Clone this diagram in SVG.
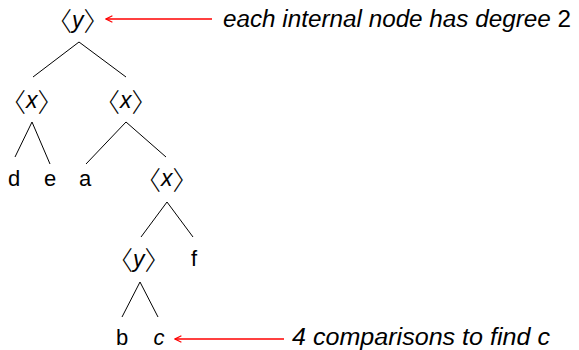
<svg xmlns="http://www.w3.org/2000/svg" width="579" height="350" viewBox="0 0 579 350">
  <style>
    .t { font-family: "Liberation Sans", "DejaVu Sans", sans-serif; font-size: 22px; fill: #000; text-anchor: middle; }
    .i { font-style: italic; }
    .node { font-family: "Liberation Sans", sans-serif; font-size: 23px; fill: #000; }
    .v { font-style: italic; }
    .br { font-family: "Noto Sans CJK SC", "DejaVu Sans", sans-serif; font-weight: 300; font-size: 26px; font-style: normal; }
    .note { font-family: "Liberation Sans", "DejaVu Sans", sans-serif; font-size: 23px; font-style: italic; fill: #000; }
    .edge { stroke: #000; stroke-width: 1; fill: none; }
    .ptr { stroke: #ff0000; stroke-width: 1.5; fill: none; marker-end: url(#ah); }
  </style>
  <defs>
    <marker id="ah" viewBox="0 0 10 10" refX="9" refY="5" markerWidth="8" markerHeight="8" markerUnits="userSpaceOnUse" orient="auto">
      <path d="M1,1 L9,5 L1,9" fill="none" stroke="#ff0000" stroke-width="1.5"/>
    </marker>
  </defs>

  <g id="connectors">
    <line class="edge" x1="79" y1="42" x2="33" y2="77"/>
    <line class="edge" x1="79" y1="42" x2="126" y2="77"/>
    <line class="edge" x1="32" y1="122" x2="15" y2="157"/>
    <line class="edge" x1="32" y1="122" x2="50" y2="164"/>
    <line class="edge" x1="126" y1="122" x2="86" y2="164"/>
    <line class="edge" x1="126" y1="122" x2="166" y2="157"/>
    <line class="edge" x1="167" y1="202" x2="141" y2="237"/>
    <line class="edge" x1="167" y1="202" x2="193" y2="237"/>
    <line class="edge" x1="140" y1="282" x2="122" y2="317"/>
    <line class="edge" x1="140" y1="282" x2="158" y2="317"/>
    <line class="ptr" x1="212" y1="19" x2="106" y2="19"/>
    <line class="ptr" x1="284" y1="339" x2="175" y2="339"/>
  </g>

  <!-- internal nodes: angle brackets around the key variable -->
  <g id="root"><text class="node" x="46" y="31"><tspan class="br">〈</tspan><tspan class="v" dy="-3">y</tspan><tspan class="br" dy="3">〉</tspan></text></g>
  <g id="x-left"><text class="node" x="0" y="112"><tspan class="br">〈</tspan><tspan class="v" dy="-4">x</tspan><tspan class="br" dy="4">〉</tspan></text></g>
  <g id="x-right"><text class="node" x="94" y="112"><tspan class="br">〈</tspan><tspan class="v" dy="-4">x</tspan><tspan class="br" dy="4">〉</tspan></text></g>
  <g id="x-inner"><text class="node" x="135" y="190"><tspan class="br">〈</tspan><tspan class="v" dy="-4">x</tspan><tspan class="br" dy="4">〉</tspan></text></g>
  <g id="y-inner"><text class="node" x="107" y="270"><tspan class="br">〈</tspan><tspan class="v" dy="-3">y</tspan><tspan class="br" dy="3">〉</tspan></text></g>

  <g id="leaf-d"><text class="t" x="14" y="186">d</text></g>
  <g id="leaf-e"><text class="t" x="50" y="186">e</text></g>
  <g id="leaf-a"><text class="t" x="85" y="186">a</text></g>
  <g id="leaf-f"><text class="t" x="194" y="266">f</text></g>
  <g id="leaf-b"><text class="t" x="122" y="345">b</text></g>
  <g id="leaf-c"><text class="t i" x="159" y="345">c</text></g>

  <g id="note-degree"><text class="note" x="223" y="27" textLength="348" lengthAdjust="spacingAndGlyphs">each internal node has degree <tspan font-style="normal">2</tspan></text></g>
  <g id="note-compare"><text class="note" x="292" y="345" textLength="258" lengthAdjust="spacingAndGlyphs">4 comparisons to find c</text></g>
</svg>
